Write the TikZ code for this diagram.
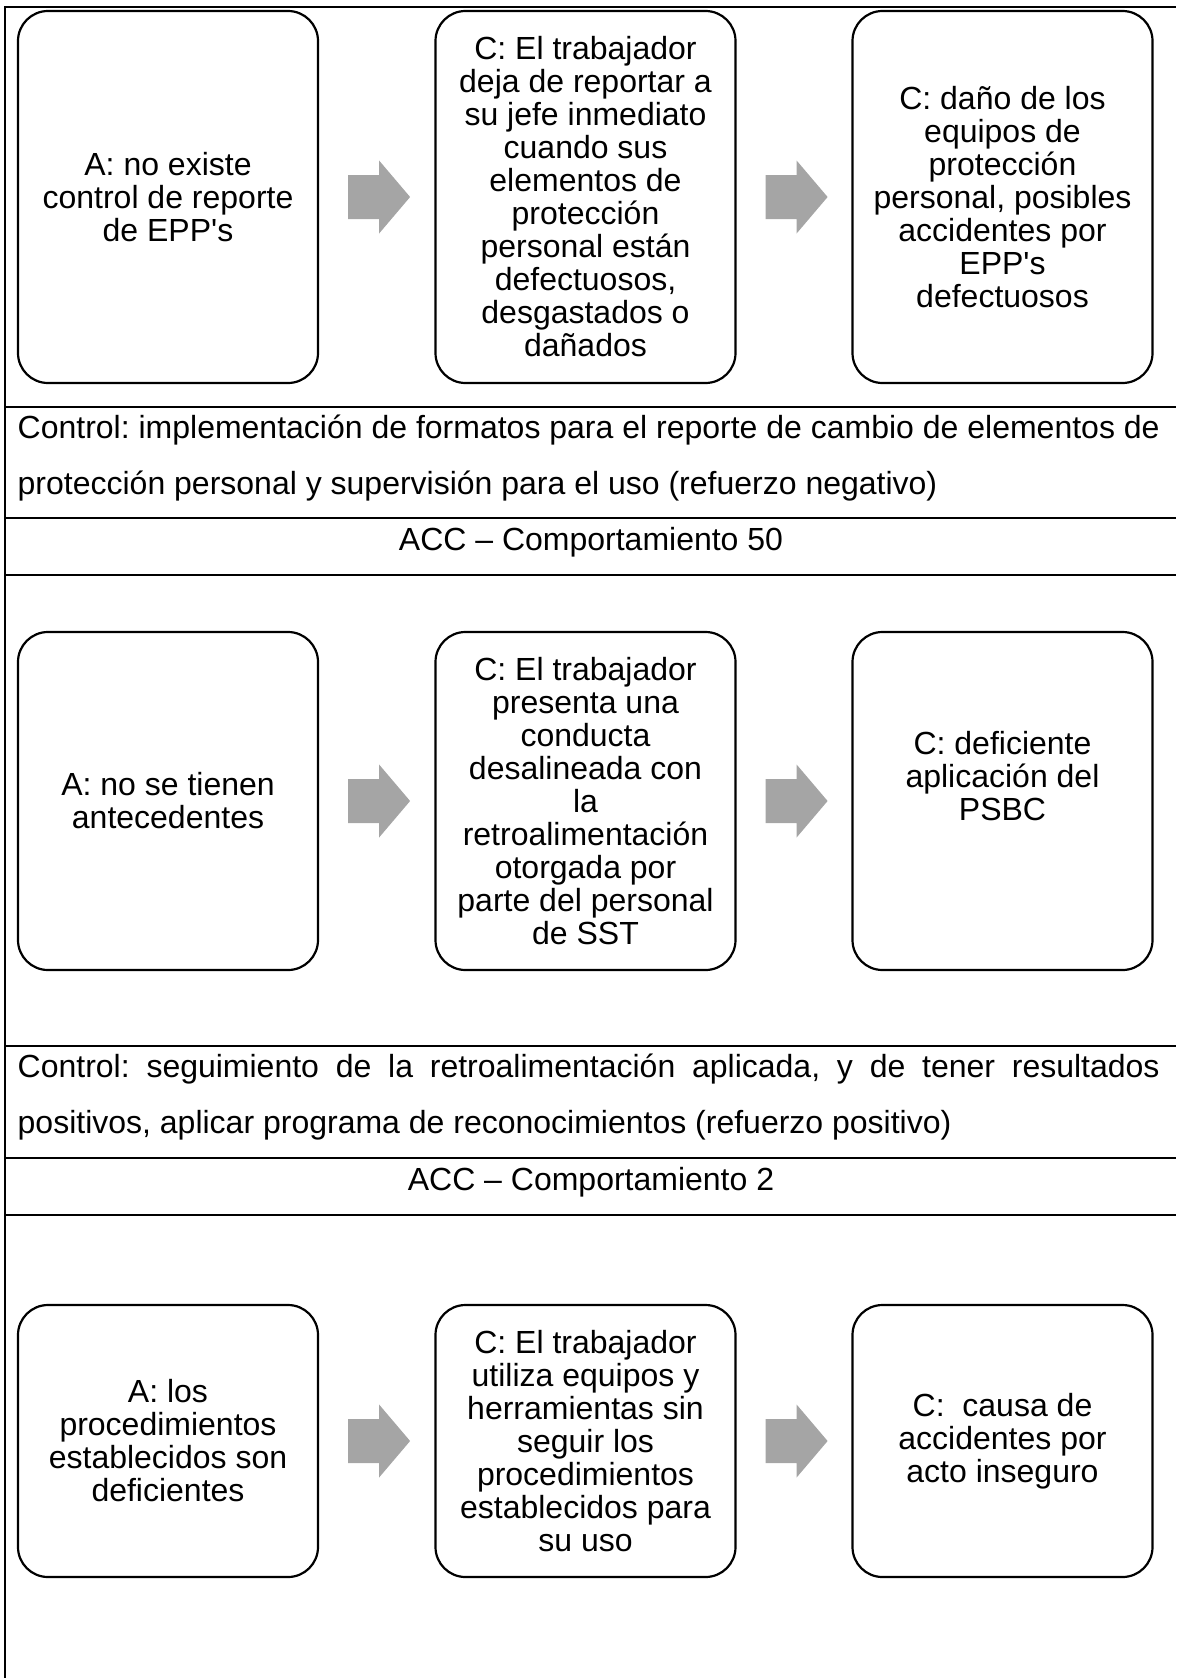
\documentclass[tikz,border=0pt]{standalone}
\usepackage{fontspec}
\setmainfont{Liberation Sans}[Ligatures=TeXOff]
\usetikzlibrary{calc}
\definecolor{arrowfill}{RGB}{165,165,165}
\frenchspacing
\tikzset{
  box/.style={draw=black, line width=2.2pt, rounded corners=30pt, minimum width=300pt,
    align=center, inner sep=0pt, font=\fontsize{32}{33}\selectfont\frenchspacing},
  rule/.style={line width=2pt, black},
  txt/.style={inner sep=0pt, font=\fontsize{32}{33}\selectfont\frenchspacing},
}
\newcommand{\blockarrow}[1]{\fill[arrowfill] ($(#1)+(29,-22)$) -- ++(31,0) -- ++(0,-14.5) -- ++(31,36.5) -- ++(-31,36.5) -- ++(0,-14.5) -- ++(-31,0) -- cycle;}
\begin{document}
\begin{tikzpicture}[x=1pt,y=-1pt]
\useasboundingbox (0,0) rectangle (1176,1678);
% table rules
\draw[rule] (5,1678) -- (5,7) -- (1176,7);
\foreach \yy in {407,518,575,1046,1158,1215} \draw[rule] (5,\yy) -- (1176,\yy);

% diagram 1
\node[box, minimum height=372pt] (a1) at (168,197) {A: no existe\\control de reporte\\de EPP's};
\node[box, minimum height=372pt] (b1) at (585.5,197) {C: El trabajador\\deja de reportar a\\su jefe inmediato\\cuando sus\\elementos de\\protección\\personal están\\defectuosos,\\desgastados o\\dañados};
\node[box, minimum height=372pt] (c1) at (1002.5,197) {C: daño de los\\equipos de\\protección\\personal, posibles\\accidentes por\\EPP's\\defectuosos};
\blockarrow{a1.east}
\blockarrow{b1.east}

% control 1
\node[txt, anchor=base west] (k1a) at (17.5,438) {\makebox[1142pt][s]{Control: implementación de formatos para el reporte de cambio de elementos de}};
\node[txt, anchor=base west] (k1b) at (17.5,494) {protección personal y supervisión para el uso (refuerzo negativo)};
\node[txt, anchor=base] (t1) at (591,550) {ACC – Comportamiento 50};

% diagram 2
\node[box, minimum height=338pt] (a2) at (168,801) {A: no se tienen\\antecedentes};
\node[box, minimum height=338pt] (b2) at (585.5,801) {C: El trabajador\\presenta una\\conducta\\desalineada con\\la\\retroalimentación\\otorgada por\\parte del personal\\de SST};
\node[box, minimum height=338pt] (c2) at (1002.5,801) {C: deficiente\\aplicación del\\PSBC\\[17pt]\mbox{}};
\blockarrow{a2.east}
\blockarrow{b2.east}

% control 2
\node[txt, anchor=base west] (k2a) at (17.5,1077) {\makebox[1142pt][s]{Control: seguimiento de la retroalimentación aplicada, y de tener resultados}};
\node[txt, anchor=base west] (k2b) at (17.5,1133) {positivos, aplicar programa de reconocimientos (refuerzo positivo)};
\node[txt, anchor=base] (t2) at (591,1190) {ACC – Comportamiento 2};

% diagram 3
\node[box, minimum height=272pt] (a3) at (168,1441) {A: los\\procedimientos\\establecidos son\\deficientes};
\node[box, minimum height=272pt] (b3) at (585.5,1441) {C: El trabajador\\utiliza equipos y\\herramientas sin\\seguir los\\procedimientos\\establecidos para\\su uso};
\node[box, minimum height=272pt] (c3) at (1002.5,1441) {C:\ \ causa de\\accidentes por\\acto inseguro};
\blockarrow{a3.east}
\blockarrow{b3.east}
\end{tikzpicture}
\end{document}
